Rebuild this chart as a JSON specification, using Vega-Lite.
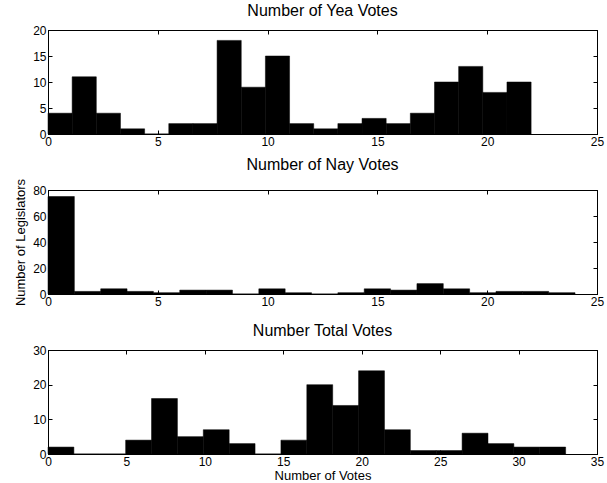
{
  "$schema": "https://vega.github.io/schema/vega-lite/v6.json",
  "background": "white",
  "padding": {"left": 14, "top": 2, "right": 2, "bottom": 1},
  "bounds": "flush",
  "datasets": {
    "yea": [
      {"start": 0.0, "end": 1.1, "count": 4},
      {"start": 1.1, "end": 2.2, "count": 11},
      {"start": 2.2, "end": 3.3, "count": 4},
      {"start": 3.3, "end": 4.4, "count": 1},
      {"start": 4.4, "end": 5.5, "count": 0},
      {"start": 5.5, "end": 6.6, "count": 2},
      {"start": 6.6, "end": 7.7, "count": 2},
      {"start": 7.7, "end": 8.8, "count": 18},
      {"start": 8.8, "end": 9.9, "count": 9},
      {"start": 9.9, "end": 11.0, "count": 15},
      {"start": 11.0, "end": 12.1, "count": 2},
      {"start": 12.1, "end": 13.2, "count": 1},
      {"start": 13.2, "end": 14.3, "count": 2},
      {"start": 14.3, "end": 15.4, "count": 3},
      {"start": 15.4, "end": 16.5, "count": 2},
      {"start": 16.5, "end": 17.6, "count": 4},
      {"start": 17.6, "end": 18.7, "count": 10},
      {"start": 18.7, "end": 19.8, "count": 13},
      {"start": 19.8, "end": 20.9, "count": 8},
      {"start": 20.9, "end": 22.0, "count": 10}
    ],
    "nay": [
      {"start": 0.0, "end": 1.2, "count": 75},
      {"start": 1.2, "end": 2.4, "count": 2},
      {"start": 2.4, "end": 3.6, "count": 4},
      {"start": 3.6, "end": 4.8, "count": 2},
      {"start": 4.8, "end": 6.0, "count": 1},
      {"start": 6.0, "end": 7.2, "count": 3},
      {"start": 7.2, "end": 8.4, "count": 3},
      {"start": 8.4, "end": 9.6, "count": 0},
      {"start": 9.6, "end": 10.8, "count": 4},
      {"start": 10.8, "end": 12.0, "count": 1},
      {"start": 12.0, "end": 13.2, "count": 0},
      {"start": 13.2, "end": 14.4, "count": 1},
      {"start": 14.4, "end": 15.6, "count": 4},
      {"start": 15.6, "end": 16.8, "count": 3},
      {"start": 16.8, "end": 18.0, "count": 8},
      {"start": 18.0, "end": 19.2, "count": 4},
      {"start": 19.2, "end": 20.4, "count": 1},
      {"start": 20.4, "end": 21.6, "count": 2},
      {"start": 21.6, "end": 22.8, "count": 2},
      {"start": 22.8, "end": 24.0, "count": 1}
    ],
    "total": [
      {"start": 0.0, "end": 1.65, "count": 2},
      {"start": 1.65, "end": 3.3, "count": 0},
      {"start": 3.3, "end": 4.95, "count": 0},
      {"start": 4.95, "end": 6.6, "count": 4},
      {"start": 6.6, "end": 8.25, "count": 16},
      {"start": 8.25, "end": 9.9, "count": 5},
      {"start": 9.9, "end": 11.55, "count": 7},
      {"start": 11.55, "end": 13.2, "count": 3},
      {"start": 13.2, "end": 14.85, "count": 0},
      {"start": 14.85, "end": 16.5, "count": 4},
      {"start": 16.5, "end": 18.15, "count": 20},
      {"start": 18.15, "end": 19.8, "count": 14},
      {"start": 19.8, "end": 21.45, "count": 24},
      {"start": 21.45, "end": 23.1, "count": 7},
      {"start": 23.1, "end": 24.75, "count": 1},
      {"start": 24.75, "end": 26.4, "count": 1},
      {"start": 26.4, "end": 28.05, "count": 6},
      {"start": 28.05, "end": 29.7, "count": 3},
      {"start": 29.7, "end": 31.35, "count": 2},
      {"start": 31.35, "end": 33.0, "count": 2}
    ]
  },
  "spacing": 56,
  "vconcat": [
    {
      "width": 549, "height": 104,
      "title": {"text": "Number of Yea Votes"},
      "data": {"name": "yea"},
      "resolve": {"axis": {"x": "independent", "y": "independent"}},
      "layer": [
        {
          "mark": {"type": "rect", "color": "black", "stroke": "black", "strokeWidth": 0.5},
          "encoding": {
            "x": {"field": "start", "type": "quantitative", "scale": {"domain": [0, 25], "nice": false},
                  "axis": {"values": [0, 5, 10, 15, 20, 25], "title": null}},
            "x2": {"field": "end"},
            "y": {"field": "count", "type": "quantitative", "scale": {"domain": [0, 20], "nice": false},
                  "axis": {"values": [0, 5, 10, 15, 20], "title": null}}
          }
        },
        {
          "mark": {"type": "rect", "opacity": 0},
          "encoding": {
            "x": {"field": "start", "type": "quantitative",
                  "axis": {"orient": "top", "values": [0, 5, 10, 15, 20, 25], "labels": false, "title": null}},
            "x2": {"field": "end"},
            "y": {"field": "count", "type": "quantitative",
                  "axis": {"orient": "right", "values": [0, 5, 10, 15, 20], "labels": false, "title": null}}
          }
        }
      ]
    },
    {
      "width": 549, "height": 104,
      "title": {"text": "Number of Nay Votes"},
      "data": {"name": "nay"},
      "resolve": {"axis": {"x": "independent", "y": "independent"}},
      "layer": [
        {
          "mark": {"type": "rect", "color": "black", "stroke": "black", "strokeWidth": 0.5},
          "encoding": {
            "x": {"field": "start", "type": "quantitative", "scale": {"domain": [0, 25], "nice": false},
                  "axis": {"values": [0, 5, 10, 15, 20, 25], "title": null}},
            "x2": {"field": "end"},
            "y": {"field": "count", "type": "quantitative", "scale": {"domain": [0, 80], "nice": false},
                  "axis": {"values": [0, 20, 40, 60, 80], "title": "Number of Legislators"}}
          }
        },
        {
          "mark": {"type": "rect", "opacity": 0},
          "encoding": {
            "x": {"field": "start", "type": "quantitative",
                  "axis": {"orient": "top", "values": [0, 5, 10, 15, 20, 25], "labels": false, "title": null}},
            "x2": {"field": "end"},
            "y": {"field": "count", "type": "quantitative",
                  "axis": {"orient": "right", "values": [0, 20, 40, 60, 80], "labels": false, "title": null}}
          }
        }
      ]
    },
    {
      "width": 549, "height": 104,
      "title": {"text": "Number Total Votes"},
      "data": {"name": "total"},
      "resolve": {"axis": {"x": "independent", "y": "independent"}},
      "layer": [
        {
          "mark": {"type": "rect", "color": "black", "stroke": "black", "strokeWidth": 0.5},
          "encoding": {
            "x": {"field": "start", "type": "quantitative", "scale": {"domain": [0, 35], "nice": false},
                  "axis": {"values": [0, 5, 10, 15, 20, 25, 30, 35], "title": "Number of Votes"}},
            "x2": {"field": "end"},
            "y": {"field": "count", "type": "quantitative", "scale": {"domain": [0, 30], "nice": false},
                  "axis": {"values": [0, 10, 20, 30], "title": null}}
          }
        },
        {
          "mark": {"type": "rect", "opacity": 0},
          "encoding": {
            "x": {"field": "start", "type": "quantitative",
                  "axis": {"orient": "top", "values": [0, 5, 10, 15, 20, 25, 30, 35], "labels": false, "title": null}},
            "x2": {"field": "end"},
            "y": {"field": "count", "type": "quantitative",
                  "axis": {"orient": "right", "values": [0, 10, 20, 30], "labels": false, "title": null}}
          }
        }
      ]
    }
  ],
  "config": {
    "font": "Liberation Sans",
    "view": {"stroke": "black", "strokeWidth": 1},
    "title": {"fontSize": 16, "fontWeight": "normal", "color": "black", "font": "Liberation Sans", "offset": 5},
    "axis": {
      "grid": false,
      "domainColor": "black",
      "tickColor": "black",
      "tickSize": -4,
      "labelPadding": 6,
      "labelColor": "black",
      "labelFont": "Liberation Sans",
      "labelFontSize": 12,
      "labelFlush": false,
      "labelOverlap": false,
      "titleFont": "Liberation Sans",
      "titleFontSize": 13,
      "titleFontWeight": "normal",
      "titleColor": "black"
    },
    "axisBottom": {"titlePadding": 2},
    "axisLeft": {"titlePadding": 5}
  }
}
